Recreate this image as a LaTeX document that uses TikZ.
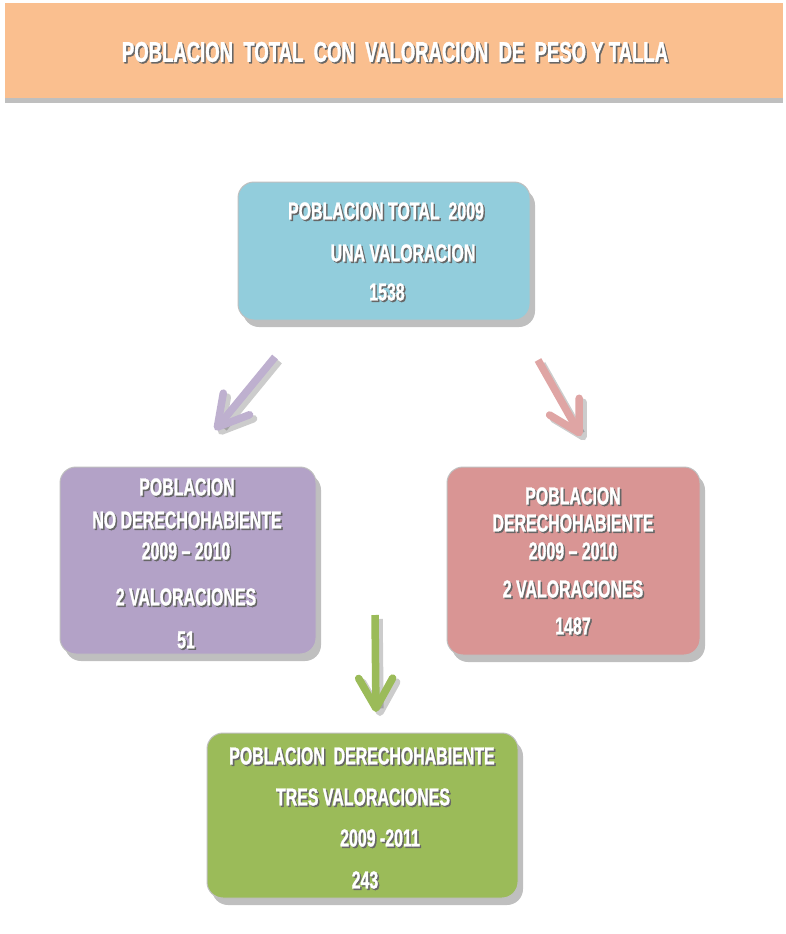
\documentclass[tikz,border=0pt]{standalone}
\usepackage{fontspec}
\setmainfont{Liberation Sans}[FakeStretch=0.65,BoldFeatures={FakeBold=1.2}]
\usetikzlibrary{arrows.meta,shadows,positioning}

\definecolor{peach}{HTML}{FABF8F}
\definecolor{celeste}{HTML}{92CDDC}
\definecolor{lila}{HTML}{B3A2C7}
\definecolor{rosa}{HTML}{D99594}
\definecolor{verde}{HTML}{9BBB59}

% white label with a grey shadow behind it
\newcommand{\etiq}[3]{%
  \node[txtshadow] at (#2) {#3};
  \node[txt] (#1) at (#2) {#3};}

\begin{document}
\begin{tikzpicture}[x=1pt,y=-1pt]
\tikzstyle{caja}=[rectangle,rounded corners=16pt,draw=black!25,line width=1pt,
  drop shadow={shadow xshift=5pt,shadow yshift=-7pt,opacity=0.25,fill=black}]
\tikzstyle{txt}=[text=white,font=\fontsize{24.5}{28}\selectfont\bfseries,inner sep=0pt]
\tikzstyle{txtshadow}=[txt,text=black!60,xshift=1.5pt,yshift=-1.5pt]
\tikzstyle{flecha}=[line width=7.5pt,-{Straight Barb[length=30pt,width=34pt,round]}]

\useasboundingbox (0,0) rectangle (785,934);

% header
\node[rectangle,fill=peach,minimum width=778pt,minimum height=95pt,
  drop shadow={shadow xshift=0pt,shadow yshift=-5pt,opacity=0.25,fill=black}]
  (head) at (394,50.5) {};
\node[txtshadow,font=\fontsize{28.5}{32}\selectfont\bfseries] at (395,52)
  {POBLACION\ \ TOTAL\ \ CON\ \ VALORACION\ \ DE\ \ PESO Y TALLA};
\node[txt,font=\fontsize{28.5}{32}\selectfont\bfseries] (title) at (395,52)
  {POBLACION\ \ TOTAL\ \ CON\ \ VALORACION\ \ DE\ \ PESO Y TALLA};

% boxes
\node[caja,fill=celeste,minimum width=292pt,minimum height=138pt] (total) at (384,251) {};
\node[caja,fill=lila,minimum width=256pt,minimum height=187pt] (noder) at (188,560.5) {};
\node[caja,fill=rosa,minimum width=253pt,minimum height=188pt] (der) at (573.5,561) {};
\node[caja,fill=verde,minimum width=311pt,minimum height=165pt] (tres) at (362.5,815.5) {};

% texts
\etiq{t1}{386,211}{POBLACION TOTAL\ \ 2009}
\etiq{t2}{403,253}{UNA VALORACION}
\etiq{t3}{387,292}{1538}

\etiq{n1}{187,487}{POBLACION}
\etiq{n2}{187,520}{NO DERECHOHABIENTE}
\etiq{n3}{186,551}{2009 -- 2010}
\etiq{n4}{186,597}{2 VALORACIONES}
\etiq{n5}{186,640}{51}

\etiq{d1}{573,496}{POBLACION}
\etiq{d2}{573,523}{DERECHOHABIENTE}
\etiq{d3}{573,551}{2009 -- 2010}
\etiq{d4}{573,589}{2 VALORACIONES}
\etiq{d5}{573,626}{1487}

\etiq{v1}{362,756}{POBLACION\ \ DERECHOHABIENTE}
\etiq{v2}{363,797}{TRES VALORACIONES}
\etiq{v3}{380,838}{2009 -2011}
\etiq{v4}{365,880}{243}

% arrows
\coordinate (a1s) at (275,357);
\coordinate (a1e) at (215,430);
\coordinate (a2s) at (538,360);
\coordinate (a2e) at (581,436);
\coordinate (a3s) at (375,615);
\coordinate (a3e) at (376,712);

\draw[flecha,black,opacity=0.2] ([xshift=4pt,yshift=-4pt]a1s) -- ([xshift=4pt,yshift=-4pt]a1e);
\draw[flecha,black,opacity=0.2] ([xshift=4pt,yshift=-4pt]a2s) -- ([xshift=4pt,yshift=-4pt]a2e);
\draw[flecha,black,opacity=0.2] ([xshift=4pt,yshift=-4pt]a3s) -- ([xshift=4pt,yshift=-4pt]a3e);
\draw[flecha,lila!85!white] (a1s) -- (a1e);
\draw[flecha,rosa!85!white] (a2s) -- (a2e);
\draw[flecha,verde] (a3s) -- (a3e);
\end{tikzpicture}
\end{document}
